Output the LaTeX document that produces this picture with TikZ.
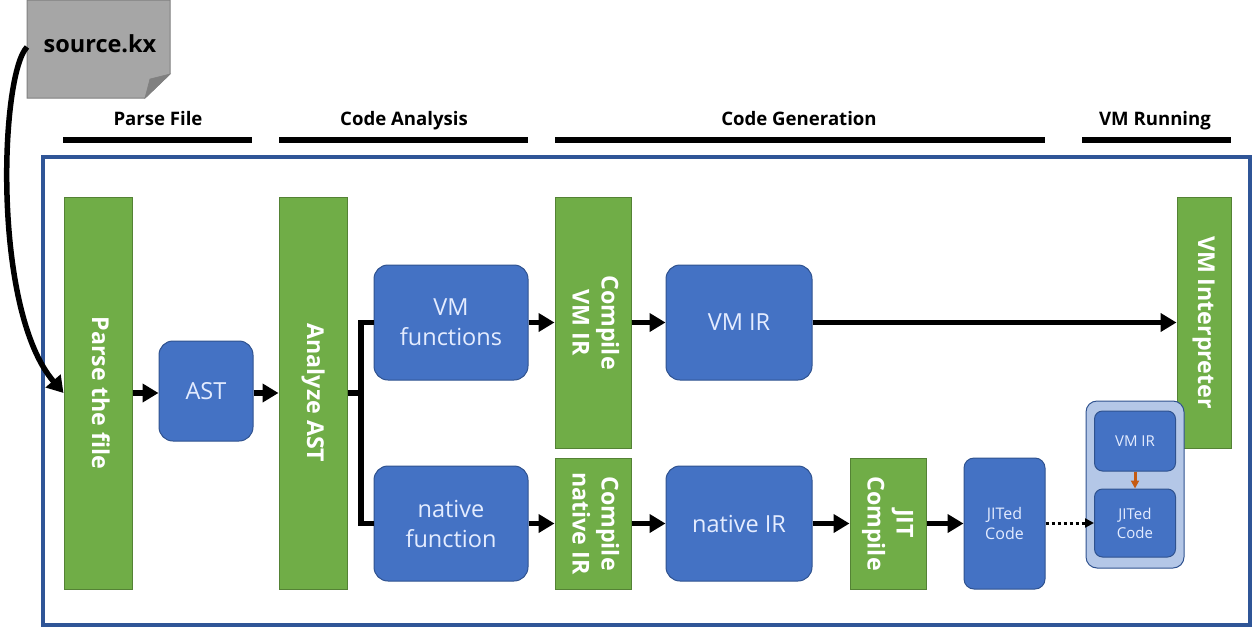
\documentclass[tikz,border=0pt]{standalone}
\usepackage{graphicx}
\usepackage{fontspec}
\setmainfont[BoldFont={Open Sans Bold}]{Open Sans}
\usetikzlibrary{arrows.meta,calc}
\definecolor{gfill}{HTML}{70AD47}
\definecolor{gline}{HTML}{548235}
\definecolor{bfill}{HTML}{4472C4}
\definecolor{bline}{HTML}{2F528F}
\definecolor{frameblue}{HTML}{2F5597}
\definecolor{pale}{HTML}{B4C7E7}
\definecolor{org}{HTML}{C55A11}
\definecolor{txtb}{HTML}{E4ECFF}
\newcommand{\rt}[1]{\rotatebox{-90}{\begin{tabular}{@{}c@{}}#1\end{tabular}}}
\tikzset{
  x=1pt,y=-1pt,
  gbox/.style={draw=gline,fill=gfill,line width=1pt,inner sep=0pt,text=white,font=\fontsize{23.2}{29}\selectfont\bfseries},
  bbox/.style={draw=bline,fill=bfill,line width=1pt,inner sep=0pt,text=txtb,rounded corners=14pt,align=center,font=\fontsize{23.5}{30}\selectfont},
  sbox/.style={draw=bline,fill=bfill,line width=1pt,inner sep=0pt,text=txtb,rounded corners=8pt,align=center,font=\fontsize{15}{19}\selectfont},
  conn/.style={line width=5.5pt,draw=black,-{Triangle[length=16pt,width=18pt]}},
  plainconn/.style={line width=5.5pt,draw=black},
  bar/.style={line width=6pt,draw=black},
  head/.style={font=\fontsize{18.6}{22}\selectfont\bfseries,text=black,inner sep=0pt,anchor=base}
}
\newcommand{\G}[6]{\node[gbox,minimum width=#4 pt-#3 pt,minimum height=#6 pt-#5 pt] (#1) at ({(#3+#4)/2},{(#5+#6)/2}) {#2};}
\begin{document}
\begin{tikzpicture}
\useasboundingbox (0,0) rectangle (1252,627);
% outer frame
\node[draw=frameblue,line width=3.5pt,minimum width=1207pt,minimum height=468pt,inner sep=0pt] (frame) at (646.5,391) {};
% source file
\coordinate (srcin) at (27,47);
\draw[fill=black!35!white,draw=black!50!white,line width=1pt] (27,0) -- (170,0) -- (170,74) -- (145,98) -- (27,98) -- cycle;
\draw[fill=black!50!white,draw=black!50!white,line width=.6pt] (145,98) -- (150,79) -- (170,74) -- cycle;
\node[font=\fontsize{23.5}{25}\selectfont\bfseries,text=black,inner sep=0pt] (src) at (100,44) {source.kx};
% headings
\node[head] (h1) at (158,125) {Parse File};
\node[head] (h2) at (404,125) {Code Analysis};
\node[head] (h3) at (799,125) {Code Generation};
\node[head] (h4) at (1155,125) {VM Running};
\coordinate (b1a) at (63,140); \coordinate (b1b) at (252,140);
\coordinate (b2a) at (279,140); \coordinate (b2b) at (528,140);
\coordinate (b3a) at (555,140); \coordinate (b3b) at (1045,140);
\coordinate (b4a) at (1082,140); \coordinate (b4b) at (1231,140);
\draw[bar] (b1a) -- (b1b);
\draw[bar] (b2a) -- (b2b);
\draw[bar] (b3a) -- (b3b);
\draw[bar] (b4a) -- (b4b);
% green
\G{parse}{\rt{Parse the file}}{64}{132}{197}{589}
\G{analyze}{\rt{Analyze AST}}{279}{347}{197}{589}
\G{cvm}{\rt{Compile\\VM IR}}{555}{631}{197}{448}
\G{cnat}{\rt{Compile\\native IR}}{555}{631}{458}{589}
\G{jit}{\rt{JIT\\Compile}}{850}{926}{458}{589}
\G{interp}{\rt{VM Interpreter}}{1177}{1231}{197}{448}
% blue
\node[bbox,minimum width=94pt,minimum height=100pt] (ast) at (206,391) {AST};
\node[bbox,minimum width=154pt,minimum height=115pt] (vmf) at (451,322.5) {VM\\functions};
\node[bbox,minimum width=154pt,minimum height=115pt] (natf) at (451,523.5) {native\\function};
\node[bbox,minimum width=146pt,minimum height=115pt] (vmir) at (739,322.5) {VM IR};
\node[bbox,minimum width=146pt,minimum height=115pt] (natir) at (739,523.5) {native IR};
\node[sbox,rounded corners=10pt,minimum width=81pt,minimum height=131pt,font=\fontsize{16}{20}\selectfont] (jited) at (1004.5,523.5) {JITed\\Code};
% container
\node[draw=bline,fill=pale,line width=1pt,rounded corners=11pt,minimum width=98pt,minimum height=167pt,inner sep=0pt] (cont) at (1135,484.5) {};
\node[sbox,minimum width=81pt,minimum height=60pt] (ivm) at (1135,441) {VM IR};
\node[sbox,minimum width=81pt,minimum height=68pt] (ijit) at (1135,523) {JITed\\Code};
% connectors
\draw[conn] (parse.east) -- (parse.east -| ast.west);
\draw[conn] (ast.east |- analyze.west) -- (analyze.west);
\coordinate (j) at (361,393);
\draw[plainconn] (analyze.east) -- (j);
\draw[plainconn] (vmf.west) -- (vmf.west -| j) -- (natf.west -| j) -- (natf.west);
\draw[conn] (vmf.east) -- (cvm.west);
\draw[conn] (natf.east) -- (cnat.west);
\draw[conn] (cvm.east) -- (vmir.west);
\draw[conn] (cnat.east) -- (natir.west);
\draw[conn] (vmir.east) -- (interp.west);
\draw[conn] (natir.east) -- (jit.west);
\draw[conn] (jit.east) -- (jited.west);
\draw[line width=3pt,draw=black,dash pattern=on 3pt off 3pt,-{Triangle[length=9pt,width=9pt]}] (jited.east |- ijit.west) -- (ijit.west);
\draw[line width=3pt,draw=org,-{Triangle[length=8pt,width=8pt]}] (ivm.south) -- (ijit.north);
\draw[line width=5.5pt,draw=black,-{Triangle[length=16pt,width=19pt]}] (srcin) .. controls (0,75) and (-8,310) .. (parse.west);
\end{tikzpicture}
\end{document}
